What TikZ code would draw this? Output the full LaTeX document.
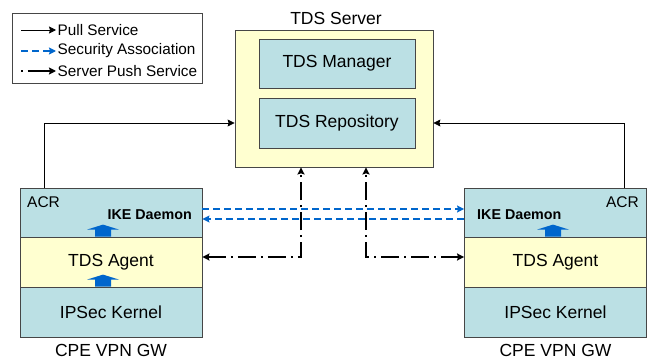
\documentclass[tikz,border=0pt]{standalone}
\usepackage{fontspec}
\setmainfont{Liberation Sans}
\usetikzlibrary{positioning,arrows.meta}

\definecolor{tdsteal}{RGB}{187,224,228}
\definecolor{tdscream}{RGB}{255,255,208}
\definecolor{tdsblue}{RGB}{0,102,204}
\definecolor{tdsframe}{RGB}{70,70,70}

\tikzset{
  layer/.style={draw=tdsframe, line width=0.8pt, rectangle, inner sep=0pt,
    minimum width=182pt, minimum height=50pt, font=\fontsize{17.5}{20}\selectfont},
  pull/.style={draw=black, line width=0.8pt, -{Stealth[length=7pt,width=7pt,inset=1pt]}},
  sa/.style={draw=tdsblue, line width=1.3pt, dash pattern=on 7pt off 4pt, -{Stealth[length=7pt,width=7pt,inset=1pt]}},
  push/.style={draw=black, line width=1.6pt, dash pattern=on 18pt off 5pt on 2pt off 5pt,
    {Stealth[length=7pt,width=7pt,inset=1pt]}-{Stealth[length=7pt,width=7pt,inset=1pt]}},
  lbl/.style={inner sep=1pt, font=\fontsize{17.5}{20}\selectfont},
  legtxt/.style={inner sep=1.5pt, anchor=west, font=\fontsize{15.3}{18}\selectfont}
}

% fat blue arrow standing on a layer border
\newcommand{\upblk}[1]{\fill[tdsblue] (#1) +(-8,0) -- +(-8,-7) -- +(-16,-7) -- +(0,-12) -- +(16,-7) -- +(8,-7) -- +(8,0) -- cycle;}

\begin{document}
\begin{tikzpicture}[x=1pt, y=-1pt]
	\useasboundingbox (0,0) rectangle (651,361);
	
	% Legend
	\node[draw=tdsframe, line width=0.8pt, minimum width=190pt, minimum height=70pt, inner sep=0pt] (legend) at (107,48) {};
	\node[legtxt] (lgpull) at (56,30) {Pull Service};
	\node[legtxt] (lgsa) at (56,51) {Security Association};
	\node[legtxt] (lgpush) at (56,71) {Server Push Service};
	\draw[pull] ([xshift=-35pt]lgpull.west) -- (lgpull.west);
	\draw[sa] ([xshift=-35pt]lgsa.west) -- (lgsa.west);
	\draw[line width=1.6pt, dash pattern=on 1.5pt off 5pt on 40pt, -{Stealth[length=7pt,width=7pt,inset=1pt]}] ([xshift=-35pt]lgpush.west) -- (lgpush.west);
	
	% TDS Server
	\node[layer, fill=tdscream, minimum width=198pt, minimum height=137pt] (server) at (334,98.5) {};
	\node[lbl] (servername) at (336,18) {TDS Server};
	\node[layer, fill=tdsteal, minimum width=156pt, minimum height=49pt] (manager) at (337,63.5) {TDS Manager};
	\node[layer, fill=tdsteal, minimum width=156pt, minimum height=50pt] (repo) at (337,123) {TDS Repository};
	
	% Left CPE VPN GW
	\node[layer, fill=tdsteal, minimum height=49pt] (lacr) at (111,212.5) {};
	\node[layer, fill=tdscream] (lagent) at (111,262) {TDS Agent};
	\node[layer, fill=tdsteal] (lkernel) at (111,312) {IPSec Kernel};
	\node[lbl, anchor=west, font=\fontsize{15.5}{18}\selectfont] (lacrname) at (26,202) {ACR};
	\node[lbl, anchor=east, font=\bfseries\fontsize{14.3}{17}\selectfont] (like) at (193,215) {IKE Daemon};
	\node[lbl] (lgw) at (111,350) {CPE VPN GW};
	\upblk{[xshift=-8pt]lagent.north}
	\upblk{[xshift=-8pt]lkernel.north}
	
	% Right CPE VPN GW
	\node[layer, fill=tdsteal, minimum height=49pt] (racr) at (555.5,212.5) {};
	\node[layer, fill=tdscream] (ragent) at (555.5,262) {TDS Agent};
	\node[layer, fill=tdsteal] (rkernel) at (555.5,312) {IPSec Kernel};
	\node[lbl, anchor=east, font=\fontsize{15.5}{18}\selectfont] (racrname) at (640,202) {ACR};
	\node[lbl, anchor=west, font=\bfseries\fontsize{14.3}{17}\selectfont] (rike) at (476,215) {IKE Daemon};
	\node[lbl] (rgw) at (555.5,350) {CPE VPN GW};
	\upblk{[xshift=-2.5pt]ragent.north}
	
	% Pull service
	\draw[pull] ([xshift=25pt]lacr.north west) |- (server.west |- repo);
	\draw[pull] ([xshift=-23pt]racr.north east) |- (server.east |- repo);
	
	% Security association
	\draw[sa] ([yshift=3.5pt]lacr.east) -- ([yshift=3.5pt]racr.west);
	\draw[sa] ([yshift=-6.5pt]racr.west) -- ([yshift=-6.5pt]lacr.east);
	
	% Server push
	\draw[push] ([yshift=5pt]lagent.east) -| ([xshift=-33pt]server.south);
	\draw[push] ([yshift=5pt]ragent.west) -| ([xshift=32pt]server.south);
\end{tikzpicture}
\end{document}
